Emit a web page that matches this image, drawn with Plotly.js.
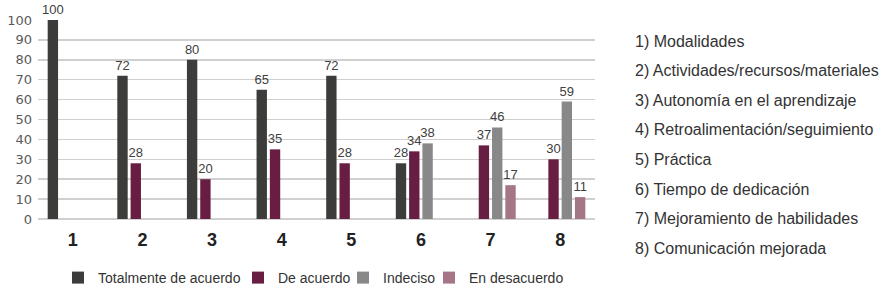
<!DOCTYPE html>
<html>
<head>
<meta charset="utf-8">
<script src="https://cdn.plot.ly/plotly-3.0.1.min.js"></script>
<style>html,body{margin:0;padding:0;background:#fff;}#chart{width:890px;height:297px;}</style>
</head>
<body>
<div id="chart"></div>
<script>
const categories = ['1','2','3','4','5','6','7','8'];
const seriesNames = ['Totalmente de acuerdo','De acuerdo','Indeciso','En desacuerdo'];
const totalmente = [100, 72, 80, 65, 72, 28, null, null];
const deAcuerdo  = [null, 28, 20, 35, 28, 34, 37, 30];
const indeciso   = [null, null, null, null, null, 38, 46, 59];
const desacuerdo = [null, null, null, null, null, null, 17, 11];
const itemLabels = [
  '1) Modalidades',
  '2) Actividades/recursos/materiales',
  '3) Autonomía en el aprendizaje',
  '4) Retroalimentación/seguimiento',
  '5) Práctica',
  '6) Tiempo de dedicación',
  '7) Mejoramiento de habilidades',
  '8) Comunicación mejorada'
];
const yTicks = [0,10,20,30,40,50,60,70,80,90,100];

const colors = ['#3c3c3a','#681e42','#888888','#a57688'];
const legendWidths = [135, 60, 41, 100];
const allSeries = [totalmente, deAcuerdo, indeciso, desacuerdo];

const traces = allSeries.map((vals, i) => ({
  type: 'bar',
  name: seriesNames[i],
  x: categories,
  y: vals,
  text: vals.map(v => v == null ? '' : String(v)),
  textposition: 'outside',
  textfont: {family: 'Liberation Sans, Arial, sans-serif', size: 13, color: '#404040'},
  cliponaxis: false,
  constraintext: 'none',
  marker: {color: colors[i]},
  legendwidth: legendWidths[i],
  hoverinfo: 'none'
}));

const annotations = itemLabels.map((t, i) => ({
  xref: 'paper', yref: 'paper',
  x: 1.069, xanchor: 'left',
  y: (219 - (41 + i * 29.6)) / 199, yanchor: 'middle',
  text: t, showarrow: false,
  font: {family: 'Liberation Sans, Arial, sans-serif', size: 16, color: '#333333'}
}));

const layout = {
  width: 890, height: 297,
  margin: {l: 38, r: 295, t: 20, b: 78, autoexpand: false},
  paper_bgcolor: '#ffffff', plot_bgcolor: '#ffffff',
  barmode: 'group',
  bargap: 0.236,
  bargroupgap: 0.22,
  showlegend: true,
  legend: {
    orientation: 'h',
    xref: 'container', yref: 'container',
    x: 58 / 890, xanchor: 'left',
    y: (297 - 278) / 297, yanchor: 'middle',
    font: {family: 'Liberation Sans, Arial, sans-serif', size: 14, color: '#333333'},
    traceorder: 'normal'
  },
  xaxis: {
    type: 'category',
    range: [-0.5, 7.5],
    showgrid: false,
    showline: false,
    ticks: '',
    ticklabelstandoff: 8,
    tickfont: {family: 'Liberation Sans, Arial, sans-serif', size: 18, color: '#222222', weight: 'bold'}
  },
  yaxis: {
    range: [0, 100],
    tickvals: yTicks,
    ticktext: yTicks.map(String),
    showgrid: true,
    gridcolor: '#d0d0d0',
    gridwidth: 1.5,
    zeroline: true,
    zerolinecolor: '#d0d0d0',
    zerolinewidth: 1.5,
    showline: false,
    ticks: '',
    ticklabelstandoff: 5,
    tickfont: {family: 'DejaVu Sans, sans-serif', size: 13, color: '#5a5a5a'}
  },
  annotations: annotations
};

Plotly.newPlot('chart', traces, layout, {staticPlot: true, displayModeBar: false});
</script>
</body>
</html>
